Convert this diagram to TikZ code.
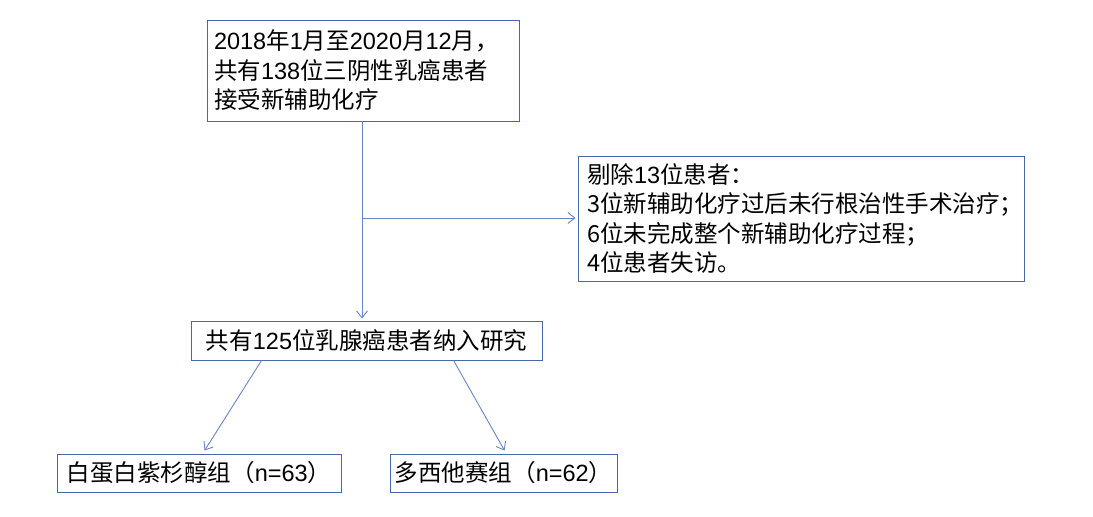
\documentclass[tikz,border=0pt]{standalone}
\usepackage{fontspec}
\setmainfont{Liberation Sans}
\newfontfamily\cjk{Noto Sans CJK SC}
\newfontfamily\latn{Liberation Sans}
\usetikzlibrary{arrows.meta}
\XeTeXinterchartokenstate=1
\newXeTeXintercharclass\cjkclass
\count255="4E00
\loop \XeTeXcharclass\count255=\cjkclass \ifnum\count255<"9FFF \advance\count255 by 1 \repeat
\XeTeXcharclass"FF08=\cjkclass
\XeTeXcharclass"FF09=\cjkclass
\XeTeXcharclass"FF0C=\cjkclass
\XeTeXcharclass"FF1A=\cjkclass
\XeTeXcharclass"FF1B=\cjkclass
\XeTeXcharclass"3002=\cjkclass
\XeTeXinterchartoks 0 \cjkclass = {\cjk}
\XeTeXinterchartoks 4095 \cjkclass = {\cjk}
\XeTeXinterchartoks \cjkclass 0 = {\latn}
\definecolor{boxc}{RGB}{72,104,170}
\definecolor{linec}{RGB}{105,135,198}
\tikzset{
  box/.style={draw=boxc, line width=0.9pt, font=\fontsize{23.5}{29.5}\selectfont, text=black},
  onebox/.style={box, inner sep=0pt, align=center},
  multibox/.style={box, inner ysep=0pt, align=left},
  conn/.style={draw=linec, line width=0.9pt, -{Straight Barb[length=7pt,width=11pt,line width=0.9pt]}}
}
\begin{document}
\begin{tikzpicture}[x=1pt,y=1pt]
\useasboundingbox[fill=white] (0,0) rectangle (1093,-517);
\node[multibox, minimum width=312pt, minimum height=101pt, text width=298pt, inner xsep=6pt] (top) at (363,-70.5)
  {2018年1月至2020月12月，\\共有138位三阴性乳癌患者\\接受新辅助化疗};
\node[multibox, minimum width=446pt, minimum height=125pt, text width=428pt, inner xsep=9pt] (excl) at (801,-218.5)
  {剔除13位患者：\\3位新辅助化疗过后未行根治性手术治疗；\\6位未完成整个新辅助化疗过程；\\4位患者失访。};
\node[onebox, minimum width=351pt, minimum height=39pt] (mid) at (366.5,-340.5) {共有125位乳腺癌患者纳入研究};
\node[onebox, minimum width=284pt, minimum height=38pt] (lft) at (199,-473) {白蛋白紫杉醇组（n=63）};
\node[onebox, minimum width=227pt, minimum height=38pt] (rgt) at (503.5,-473) {多西他赛组（n=62）};
\coordinate (j) at (362,-218);
\draw[conn] (top.south -| j) -- ([yshift=2pt]mid.north -| j);
\draw[conn] (j) -- ([xshift=-2pt]excl.west |- j);
\draw[conn] ([xshift=71pt]mid.south west) -- ([xshift=148pt,yshift=3pt]lft.north west);
\draw[conn] ([xshift=263pt]mid.south west) -- ([xshift=115pt,yshift=3pt]rgt.north west);
\end{tikzpicture}
\end{document}
